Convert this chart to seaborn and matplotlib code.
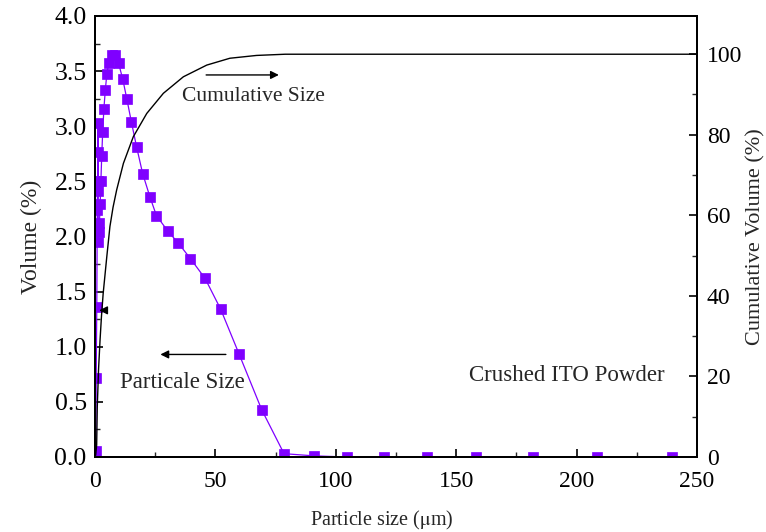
import numpy as np
import pandas as pd
import matplotlib
matplotlib.use('Agg')
import matplotlib.pyplot as plt
from matplotlib.ticker import MultipleLocator
import seaborn as sns

# particle size distribution (Volume %)
vol_x = [0.35, 0.5, 0.75, 0.95, 1.05, 1.12, 1.18, 1.25, 1.4, 1.6, 1.85, 2.15,
         2.45, 2.8, 3.2, 3.7, 4.3, 4.9, 5.7, 7.1, 8.4, 9.8, 11.5, 13.2, 15.1,
         17.3, 19.8, 22.8, 25.5, 30.2, 34.6, 39.6, 45.7, 52.2, 59.9, 69.2,
         78.5, 91.1, 104.5, 120.0, 137.7, 158.2, 181.7, 208.6, 239.5]
vol_y = [0.05, 0.72, 1.36, 2.24, 2.41, 2.50, 2.77, 3.03, 1.95, 2.04, 2.12, 2.29,
         2.50, 2.73, 2.95, 3.16, 3.33, 3.47, 3.57, 3.65, 3.65, 3.57, 3.43, 3.25, 3.04,
         2.81, 2.57, 2.36, 2.19, 2.05, 1.94, 1.80, 1.62, 1.34, 0.93, 0.43,
         0.03, 0.01, 0.0, 0.0, 0.0, 0.0, 0.0, 0.0, 0.0]

# cumulative volume (%)
cum_x = [0.0, 0.3, 0.7, 0.95, 1.5, 2.1, 2.7, 3.4, 4.9, 6.2, 7.5, 9.0, 11.8,
         15.9, 21.5, 28.4, 36.7, 46.4, 56.0, 67.1, 79.0, 100.0, 150.0, 200.0, 250.0]
cum_y = [0.0, 0.5, 3.0, 12.5, 22.0, 29.0, 35.0, 40.6, 49.7, 57.2, 62.0, 66.3, 72.9,
         79.5, 85.3, 90.3, 94.4, 97.3, 99.0, 99.7, 100.0, 100.0, 100.0, 100.0, 100.0]

df_vol = pd.DataFrame({'size': vol_x, 'volume': vol_y})
df_cum = pd.DataFrame({'size': cum_x, 'cumulative': cum_y})

sns.set_style('ticks')
plt.rcParams['font.family'] = ['Liberation Serif', 'DejaVu Serif']
plt.rcParams['mathtext.fontset'] = 'stix'

violeta = '#7f00ff'

fig = plt.figure(figsize=(7.66, 5.32), dpi=100)
ax = fig.add_axes([0.124, 0.141, 0.786, 0.829])

sns.lineplot(data=df_vol, x='size', y='volume', ax=ax, sort=False, color=violeta,
             lw=0.9, marker='s', markersize=7, markeredgecolor=violeta,
             markeredgewidth=0.5)

ax2 = ax.twinx()
sns.lineplot(data=df_cum, x='size', y='cumulative', ax=ax2, sort=False,
             color='black', lw=1.0)

ax.set_xlim(0, 250)
ax.set_ylim(0, 4.0)
ax2.set_ylim(0, 109.5)

ax.xaxis.set_major_locator(MultipleLocator(50))
ax.xaxis.set_minor_locator(MultipleLocator(25))
ax.yaxis.set_major_locator(MultipleLocator(0.5))
ax.yaxis.set_minor_locator(MultipleLocator(0.25))
ax.yaxis.set_major_formatter(matplotlib.ticker.FormatStrFormatter('%.1f'))
ax2.yaxis.set_major_locator(MultipleLocator(20))
ax2.yaxis.set_minor_locator(MultipleLocator(10))

for a in (ax, ax2):
    for s in a.spines.values():
        s.set_visible(True)
        s.set_linewidth(1.4)
        s.set_color('black')
    a.tick_params(which='major', direction='in', length=6, width=1.2,
                  colors='black', pad=6)
    a.tick_params(which='minor', direction='in', length=3.5, width=1.0)
ax.tick_params(which='both', top=False, right=False)
ax.tick_params(axis='x', labelsize=17, pad=10)
ax.tick_params(axis='y', labelsize=18.5)
ax2.tick_params(which='both', left=False, right=True)
ax2.tick_params(axis='y', labelsize=17, pad=7)

ax.set_xlabel('Particle size ($\\mathrm{\\mu}$m)', fontsize=14.5)
ax.xaxis.set_label_coords(0.477, -0.118)
ax.set_ylabel('Volume (%)', fontsize=17, labelpad=9)
ax2.set_ylabel('Cumulative Volume (%)', fontsize=16, labelpad=3)

# annotations
ax.annotate('', xy=(77.5, 3.465), xytext=(45, 3.465),
            arrowprops=dict(arrowstyle='-|>', color='black', lw=1.0,
                            mutation_scale=12))
ax.text(36, 3.27, 'Cumulative Size', fontsize=15.5, va='center', ha='left')

ax.annotate('', xy=(26.0, 0.93), xytext=(55.5, 0.93),
            arrowprops=dict(arrowstyle='-|>', color='black', lw=1.0,
                            mutation_scale=12))
ax.text(10.4, 0.68, 'Particale Size', fontsize=16.5, va='center', ha='left')

ax.annotate('', xy=(0.6, 1.33), xytext=(4.5, 1.33),
            arrowprops=dict(arrowstyle='-|>', color='black', lw=1.0,
                            mutation_scale=12))

ax.text(236.7, 0.74, 'Crushed ITO Powder', fontsize=16.5, va='center', ha='right')

fig.savefig('out.png', dpi=100)
